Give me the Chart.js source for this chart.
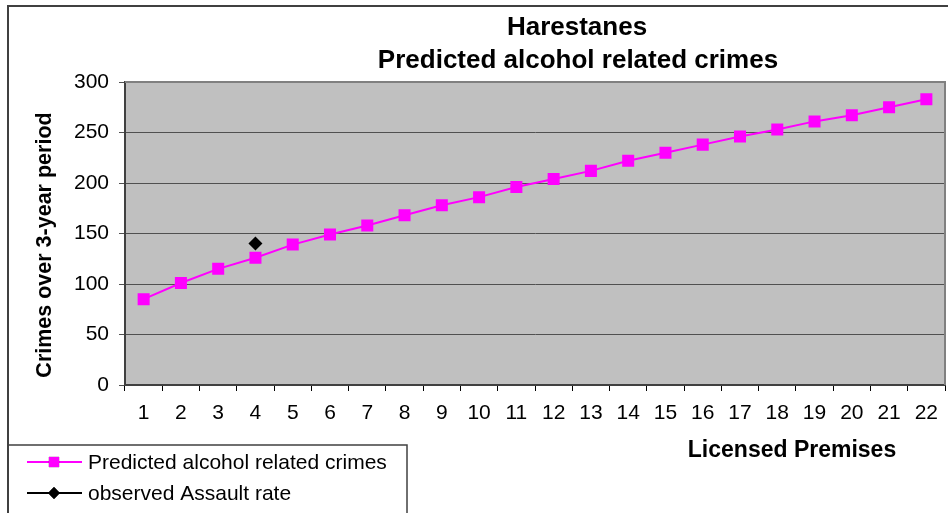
<!DOCTYPE html>
<html lang="en">
<head>
<meta charset="UTF-8">
<title>Harestanes</title>
<style>
    body {
        margin: 0;
        background: #ffffff;
    }
    #chart {
        display: block;
    }
</style>
<script src="https://cdn.jsdelivr.net/npm/chart.js"></script>
</head>
<body>

<canvas id="chart" width="948" height="513"></canvas>

<script>
// chart data
var premises = ['1', '2', '3', '4', '5', '6', '7', '8', '9', '10', '11',
    '12', '13', '14', '15', '16', '17', '18', '19', '20', '21', '22'];
var predicted = [85, 101, 115, 126, 139, 149, 158, 168, 178, 186, 196,
    204, 212, 222, 230, 238, 246, 253, 261, 267, 275, 283];
var observed = [null, null, null, 140, null, null, null, null, null, null, null,
    null, null, null, null, null, null, null, null, null, null, null];

var titleLines = ['Harestanes', 'Predicted alcohol related crimes'];
var seriesNames = ['Predicted alcohol related crimes', 'observed Assault rate'];
var xTitle = 'Licensed Premises';
var yTitle = 'Crimes over 3-year period';

var FONT = '"Liberation Sans", Arial, sans-serif';
var PLOT_RIGHT = 945;

// background, frame, titles and legend box
var decorations = {
    id: 'decorations',
    afterLayout: function(chart) {
        // chart.js keeps a few px on the right for the last label, take them back
        var x = chart.scales.x;
        chart.chartArea.right = PLOT_RIGHT;
        chart.chartArea.width = PLOT_RIGHT - chart.chartArea.left;
        x.right = PLOT_RIGHT;
        x.width = PLOT_RIGHT - x.left;
        x.configure();
        chart.scales.y.configure();
    },
    beforeDraw: function(chart) {
        var ctx = chart.ctx;
        var a = chart.chartArea;
        ctx.save();
        ctx.fillStyle = '#ffffff';
        ctx.fillRect(0, 0, chart.width, chart.height);
        ctx.fillStyle = '#c0c0c0';
        ctx.fillRect(a.left, a.top, a.right - a.left, a.bottom - a.top);
        ctx.restore();
    },
    afterDraw: function(chart) {
        var ctx = chart.ctx;
        var a = chart.chartArea;
        ctx.save();

        // outer border
        ctx.strokeStyle = '#404040';
        ctx.lineWidth = 2;
        ctx.strokeRect(8, 6, chart.width + 10, chart.height + 10);

        // plot area frame top / right
        ctx.strokeStyle = '#808080';
        ctx.lineWidth = 2;
        ctx.beginPath();
        ctx.moveTo(a.left, a.top);
        ctx.lineTo(a.right, a.top);
        ctx.lineTo(a.right, a.bottom);
        ctx.stroke();

        // titles
        ctx.fillStyle = '#000000';
        ctx.textBaseline = 'middle';
        ctx.textAlign = 'center';
        ctx.font = 'bold 26px ' + FONT;
        ctx.fillText(titleLines[0], 577, 28);
        ctx.fillText(titleLines[1], 578, 61);

        ctx.font = 'bold 23px ' + FONT;
        ctx.fillText(xTitle, 792, 451);

        ctx.save();
        ctx.translate(45, 245);
        ctx.rotate(-Math.PI / 2);
        ctx.font = 'bold 21.5px ' + FONT;
        ctx.fillText(yTitle, 0, 0);
        ctx.restore();

        // legend
        ctx.strokeStyle = '#404040';
        ctx.lineWidth = 1.5;
        ctx.strokeRect(8, 445, 399, 100);

        var rows = [462, 493];
        chart.data.datasets.forEach(function(ds, i) {
            var y = rows[i];
            ctx.strokeStyle = ds.borderColor;
            ctx.lineWidth = 2;
            ctx.beginPath();
            ctx.moveTo(27, y);
            ctx.lineTo(82, y);
            ctx.stroke();
            Chart.helpers.drawPoint(ctx, {
                pointStyle: ds.pointStyle,
                radius: ds.pointRadius * 0.85,
                borderWidth: 0
            }, 54, y);
            ctx.fillStyle = ds.backgroundColor;
            ctx.fill();
            ctx.fillStyle = '#000000';
            ctx.textAlign = 'left';
            ctx.font = '21px ' + FONT;
            ctx.fillText(seriesNames[i], 88, y + 1);
        });

        ctx.restore();
    }
};

new Chart(document.getElementById('chart').getContext('2d'), {
    type: 'line',
    data: {
        labels: premises,
        datasets: [{
            label: seriesNames[0],
            data: predicted,
            borderColor: '#ff00ff',
            backgroundColor: '#ff00ff',
            borderWidth: 2,
            pointStyle: 'rect',
            pointRadius: 8.5,
            pointBorderWidth: 0,
            tension: 0
        }, {
            label: seriesNames[1],
            data: observed,
            borderColor: '#000000',
            backgroundColor: '#000000',
            showLine: false,
            pointStyle: 'rectRot',
            pointRadius: 7,
            pointBorderWidth: 0
        }]
    },
    options: {
        responsive: false,
        animation: false,
        layout: {
            padding: { top: 82, right: 0, left: 0, bottom: 0 }
        },
        plugins: {
            legend: { display: false },
            title: { display: false },
            tooltip: { enabled: false }
        },
        scales: {
            x: {
                offset: true,
                afterFit: function(scale) {
                    scale.height = 128;
                },
                grid: {
                    offset: true,
                    drawOnChartArea: false,
                    drawTicks: true,
                    tickLength: 6,
                    color: '#000000'
                },
                border: { display: true, color: '#404040', width: 2 },
                ticks: {
                    color: '#000000',
                    padding: 10,
                    maxRotation: 0,
                    autoSkip: false,
                    font: { family: FONT, size: 21 }
                }
            },
            y: {
                min: 0,
                max: 300,
                afterFit: function(scale) { scale.width = 125; },
                grid: {
                    color: '#505050',
                    lineWidth: 1,
                    drawTicks: true,
                    tickLength: 6
                },
                border: { display: true, color: '#404040', width: 2 },
                ticks: {
                    stepSize: 50,
                    color: '#000000',
                    padding: 10,
                    font: { family: FONT, size: 21 }
                }
            }
        }
    },
    plugins: [decorations]
});
</script>
</body>
</html>
